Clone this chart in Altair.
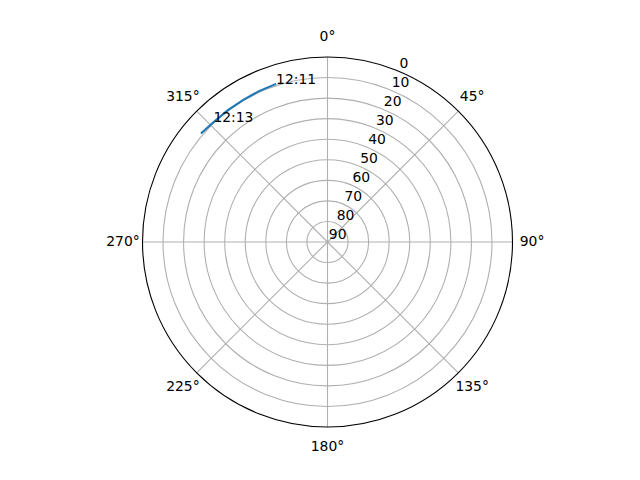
import math
import altair as alt
import pandas as pd

# ---- data ----
track_time = ["12:11:00", "12:11:30", "12:12:00", "12:12:30", "12:13:00", "12:13:27"]
track_az = [342.0, 335.6, 329.2, 322.8, 316.4, 310.6]      # azimuth, degrees (clockwise from N)
track_el = [9.1, 9.4, 9.6, 9.6, 9.5, 8.9]                  # elevation, degrees
track_label = ["12:11", "", "", "", "12:13", ""]

ring_el = [10, 20, 30, 40, 50, 60, 70, 80]
frame_el = [0]
radial_ticks = [0, 10, 20, 30, 40, 50, 60, 70, 80, 90]
radial_label_az = 22.5
theta_ticks = [0, 45, 90, 135, 180, 225, 270, 315]
theta_labels = ["0°", "45°", "90°", "135°", "180°", "225°", "270°", "315°"]

FONT = "DejaVu Sans"
FS = 13.9
R_MAX = 90
R_PX = 185
LABEL_R = 99.5

track_df = pd.DataFrame({"i": range(len(track_time)), "t": track_time,
                         "az": track_az, "el": track_el, "label": track_label})
rings_df = pd.DataFrame({"el": ring_el})
frame_df = pd.DataFrame({"el": frame_el})
rtick_df = pd.DataFrame({"el": radial_ticks, "txt": [str(v) for v in radial_ticks],
                         "az": [radial_label_az] * len(radial_ticks)})
theta_df = pd.DataFrame({"az": theta_ticks, "txt": theta_labels})

xs = alt.Scale(domain=[-R_MAX, R_MAX])
ys = alt.Scale(domain=[-R_MAX, R_MAX])
rs = alt.Scale(type="linear", domain=[0, R_MAX], range=[0, R_PX], zero=True)


def polar(chart, r_expr):
    return chart.transform_calculate(
        r=r_expr
    ).transform_calculate(
        x="datum.r * sin(datum.az * PI / 180)",
        y="datum.r * cos(datum.az * PI / 180)",
    )


rings = alt.Chart(rings_df).mark_arc(
    filled=False, theta=0, theta2=2 * math.pi, stroke="#b0b0b0", strokeWidth=1.1
).transform_calculate(r="90 - datum.el").encode(
    radius=alt.Radius("r:Q", scale=rs, stack=None)
)

spokes = alt.Chart(theta_df).mark_rule(color="#b0b0b0", strokeWidth=1.1).transform_calculate(
    x0="0", y0="0",
    x2=f"{R_MAX} * sin(datum.az * PI / 180)",
    y2=f"{R_MAX} * cos(datum.az * PI / 180)",
).encode(
    x=alt.X("x0:Q", scale=xs, axis=None),
    y=alt.Y("y0:Q", scale=ys, axis=None),
    x2="x2:Q", y2="y2:Q",
)

frame = alt.Chart(frame_df).mark_arc(
    filled=False, theta=0, theta2=2 * math.pi, stroke="#000000", strokeWidth=1.1
).transform_calculate(r="90 - datum.el").encode(
    radius=alt.Radius("r:Q", scale=rs, stack=None)
)

rlabels = polar(alt.Chart(rtick_df), "90 - datum.el").mark_text(
    align="left", baseline="alphabetic", dx=1.3, dy=-2.6, font=FONT, fontSize=FS, color="black"
).encode(
    x=alt.X("x:Q", scale=xs, axis=None),
    y=alt.Y("y:Q", scale=ys, axis=None),
    text="txt:N",
)

tlabels = polar(alt.Chart(theta_df), str(LABEL_R)).mark_text(
    align="center", baseline="middle", font=FONT, fontSize=FS, color="black"
).encode(
    x=alt.X("x:Q", scale=xs, axis=None),
    y=alt.Y("y:Q", scale=ys, axis=None),
    text="txt:N",
)

line = polar(alt.Chart(track_df), "90 - datum.el").mark_line(
    color="#1f77b4", strokeWidth=2.1
).encode(
    x=alt.X("x:Q", scale=xs, axis=None),
    y=alt.Y("y:Q", scale=ys, axis=None),
    order=alt.Order("i:Q"),
)

tracklabels = polar(alt.Chart(track_df), "90 - datum.el").transform_filter(
    "datum.label != ''"
).mark_text(
    align="left", baseline="alphabetic", font=FONT, fontSize=FS, color="black"
).encode(
    x=alt.X("x:Q", scale=xs, axis=None),
    y=alt.Y("y:Q", scale=ys, axis=None),
    text="label:N",
)

chart = alt.layer(rings, spokes, frame, line, rlabels, tlabels, tracklabels).properties(
    width=370, height=370,
    autosize=alt.AutoSizeParams(type="none"),
    padding={"left": 134.5, "top": 49, "right": 119.5, "bottom": 45},
    background="white",
).configure_view(stroke=None)

chart.save("out.html", embed_options={"renderer": "svg", "actions": False})
